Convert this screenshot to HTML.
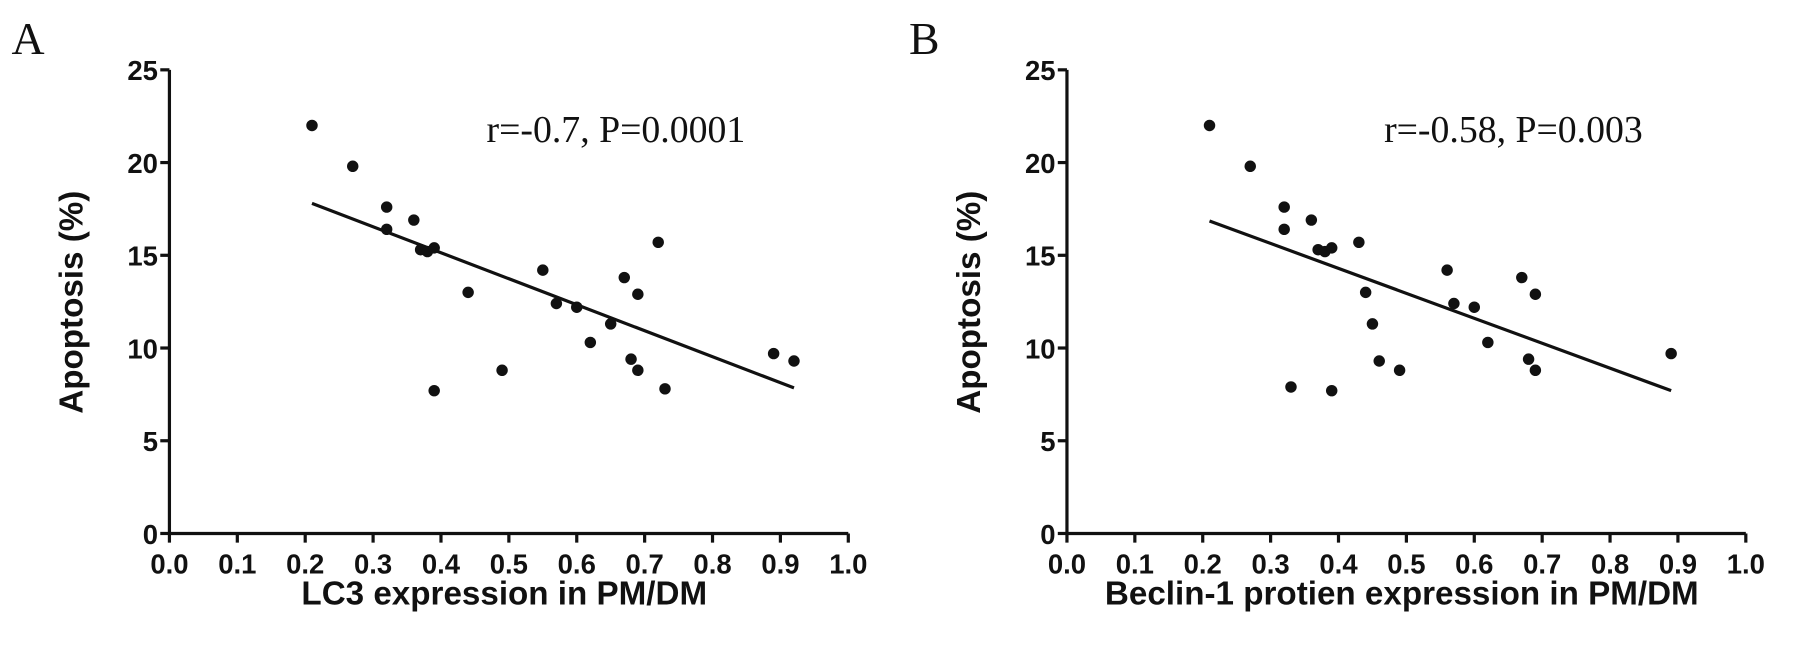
<!DOCTYPE html>
<html><head><meta charset="utf-8"><style>
body{margin:0;background:#fff}
svg{display:block}
.t{font-family:"Liberation Sans",sans-serif;font-weight:bold;font-size:24px;fill:#111}
.ttl{font-family:"Liberation Sans",sans-serif;font-weight:bold;font-size:29px;fill:#111}
.ser{font-family:"Liberation Serif",serif;fill:#111}
</style></head><body>
<svg id="c" width="1795" height="657"><g id="root" transform="scale(1.1448)"></g></svg>
<script>
const xTicks=[0.0,0.1,0.2,0.3,0.4,0.5,0.6,0.7,0.8,0.9,1.0];
const yTicks=[0,5,10,15,20,25];
const aX=[0.21,0.27,0.32,0.32,0.36,0.37,0.38,0.39,0.39,0.44,0.49,0.55,0.57,0.60,0.62,0.65,0.67,0.68,0.69,0.69,0.72,0.73,0.89,0.92];
const aY=[22.0,19.8,17.6,16.4,16.9,15.3,15.2,15.4,7.7,13.0,8.8,14.2,12.4,12.2,10.3,11.3,13.8,9.4,12.9,8.8,15.7,7.8,9.7,9.3];
const aFit=[[0.21,17.8],[0.92,7.85]];
const bX=[0.21,0.27,0.32,0.32,0.33,0.36,0.37,0.38,0.39,0.39,0.43,0.44,0.45,0.46,0.49,0.56,0.57,0.60,0.62,0.67,0.68,0.69,0.69,0.89];
const bY=[22.0,19.8,17.6,16.4,7.9,16.9,15.3,15.2,15.4,7.7,15.7,13.0,11.3,9.3,8.8,14.2,12.4,12.2,10.3,13.8,9.4,12.9,8.8,9.7];
const bFit=[[0.21,16.85],[0.89,7.7]];
const NS="http://www.w3.org/2000/svg";
const svg=document.getElementById('root');
function mk(tag,at,parent,txt){const e=document.createElementNS(NS,tag);for(const k in at)e.setAttribute(k,at[k]);if(txt!==undefined)e.textContent=txt;(parent||svg).appendChild(e);return e;}
function panel(id,x0,letter,xs,ys,fit,ann,xtitle){
  const x1=x0+593,yb=466,yt=61;
  const sx=v=>x0+v*(x1-x0), sy=v=>yb-v/25*(yb-yt);
  const g=mk('g',{});
  
  
  const L=mk('text',{x:x0-138,y:47,class:'ser','font-size':40},g,letter);
  
  
  const ya=mk('line',{x1:x0,y1:yt,x2:x0,y2:yb,stroke:'#111','stroke-width':2.8},g);
  
  
  const xa=mk('line',{x1:x0,y1:yb,x2:x1,y2:yb,stroke:'#111','stroke-width':2.8},g);
  
  
  yTicks.forEach(v=>{
    mk('line',{x1:x0-8,y1:sy(v),x2:x0,y2:sy(v),stroke:'#111','stroke-width':2.8},g);
    const t=mk('text',{x:x0-10,y:sy(v)+9,class:'t','text-anchor':'end'},g,String(v));
    
    
  });
  xTicks.forEach(v=>{
    mk('line',{x1:sx(v),y1:yb,x2:sx(v),y2:yb+8,stroke:'#111','stroke-width':2.8},g);
    const t=mk('text',{x:sx(v),y:yb+35,class:'t','text-anchor':'middle'},g,v.toFixed(1));
    
    
  });
  const yt2=mk('text',{x:0,y:0,class:'ttl','text-anchor':'middle',transform:`translate(${x0-76},264) rotate(-90)`},g,'Apoptosis (%)');
  
  
  const xt=mk('text',{x:(x0+x1)/2-4,y:528,class:'ttl','text-anchor':'middle'},g,xtitle);
  
  
  const an=mk('text',{x:x0+277,y:124,class:'ser','font-size':33},g,ann);
  
  
  const fl=mk('line',{x1:sx(fit[0][0]),y1:sy(fit[0][1]),x2:sx(fit[1][0]),y2:sy(fit[1][1]),stroke:'#111','stroke-width':2.8},g);
  
  
  xs.forEach((v,i)=>{
    const c=mk('circle',{cx:sx(v),cy:sy(ys[i]),r:5,fill:'#111'},g);
    
    
  });
}
panel('a',148,'A',aX,aY,aFit,'r=-0.7, P=0.0001','LC3 expression in PM/DM');
panel('b',932,'B',bX,bY,bFit,'r=-0.58, P=0.003','Beclin-1 protien expression in PM/DM');
</script>
</body></html>
